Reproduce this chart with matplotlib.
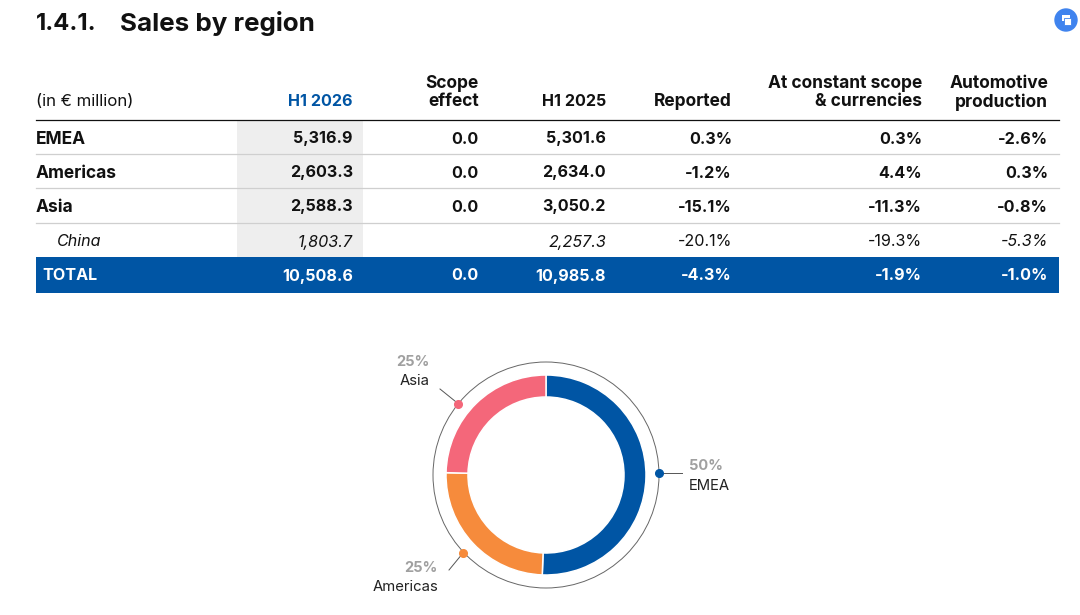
import matplotlib
matplotlib.use("Agg")
import numpy as np
import matplotlib.pyplot as plt
from matplotlib.patches import Circle, Rectangle

FONT = "Inter"
plt.rcParams["font.family"] = [FONT, "DejaVu Sans"]

BLUE = "#0055A4"
INK = "#111111"

title_num = "1.4.1."
title = "Sales by region"
unit = "(in € million)"
headers = ["H1 2026", "Scope\neffect", "H1 2025", "Reported", "At constant scope\n& currencies", "Automotive\nproduction"]
regions = ["EMEA", "Americas", "Asia"]
h1_2026 = ["5,316.9", "2,603.3", "2,588.3"]
scope = ["0.0", "0.0", "0.0"]
h1_2025 = ["5,301.6", "2,634.0", "3,050.2"]
reported = ["0.3%", "-1.2%", "-15.1%"]
constant = ["0.3%", "4.4%", "-11.3%"]
auto_prod = ["-2.6%", "0.3%", "-0.8%"]
china = ["China", "1,803.7", "", "2,257.3", "-20.1%", "-19.3%", "-5.3%"]
china_italic = [True, True, False, True, False, False, True]
total = ["TOTAL", "10,508.6", "0.0", "10,985.8", "-4.3%", "-1.9%", "-1.0%"]

share_labels = ["EMEA", "Americas", "Asia"]
share_values = [5316.9, 2603.3, 2588.3]
share_text = ["50%", "25%", "25%"]
share_colors = [BLUE, "#F68B3C", "#F4677A"]

fig = plt.figure(figsize=(10.8, 6.15), dpi=100, facecolor="white")
ax = fig.add_axes([0, 0, 1, 1])
ax.set_xlim(0, 1080)
ax.set_ylim(615, 0)
ax.axis("off")

ax.text(36, 24, title_num, fontsize=17.2, fontweight="bold", color=INK, va="center")
ax.text(120, 24, title, fontsize=18.7, fontweight="bold", color=INK, va="center")

# icon
ax.add_patch(Circle((1066, 20), 11, color="#3F83EE", zorder=2))
ax.add_patch(Rectangle((1062, 15), 8, 6, fc="white", ec="none", zorder=3))
ax.add_patch(Rectangle((1064, 18), 7, 7, fc="white", ec="#3F83EE", lw=0.6, zorder=4))

col_right = [353, 479, 606, 732, 922, 1048]
FS = 11.6
FS_HEAD = 12.5

# shading and rules
ax.add_patch(Rectangle((237, 120), 126, 137, fc="#EEEEEE", ec="none", zorder=1))
ax.add_patch(Rectangle((36, 257), 1023, 35.5, fc=BLUE, ec="none", zorder=1))
ax.plot([36, 1059], [119.5, 119.5], color="#111111", lw=0.9, zorder=2)
for y in (154, 188, 222.5):
    ax.plot([36, 1059], [y, y], color="#CFCFCF", lw=0.9, zorder=2)

# header
ax.text(36, 102, unit, fontsize=12.1, color=INK, va="center")
for x, h, in zip(col_right, headers):
    c = BLUE if h == "H1 2026" else INK
    fs = FS if h.startswith("H1") else FS_HEAD
    lines = h.split("\n")
    for i, line in enumerate(reversed(lines)):
        ax.text(x, 102 - 19 * i, line, fontsize=fs, fontweight="bold", color=c, ha="right", va="center")

# body
row_y = [139, 173, 207]
for r, y in enumerate(row_y):
    ax.text(36, y, regions[r], fontsize=FS_HEAD, fontweight="bold", color=INK, va="center", zorder=3)
    vals = [h1_2026[r], scope[r], h1_2025[r], reported[r], constant[r], auto_prod[r]]
    for x, v in zip(col_right, vals):
        ax.text(x, y, v, fontsize=FS, fontweight="bold", color=INK, ha="right", va="center", zorder=3)

ax.text(57, 242, china[0], fontsize=FS, style="italic", color=INK, va="center", zorder=3)
for x, v, it in zip(col_right, china[1:], china_italic[1:]):
    ax.text(x, 242, v, fontsize=FS, style="italic" if it else "normal", color=INK, ha="right", va="center", zorder=3)

ax.text(42, 276, total[0], fontsize=FS, fontweight="bold", color="white", va="center", zorder=3)
for x, v in zip(col_right, total[1:]):
    ax.text(x, 276, v, fontsize=FS, fontweight="bold", color="white", ha="right", va="center", zorder=3)

# donut
cx, cy, R = 546, 475, 100
half = 135
pie_ax = fig.add_axes([(cx - half) / 1080, 1 - (cy + half) / 615, 2 * half / 1080, 2 * half / 615])
pie_ax.pie(share_values, colors=share_colors, startangle=90, counterclock=False, radius=1,
           wedgeprops=dict(width=22 / R, edgecolor="white", linewidth=1.1))
pie_ax.set_xlim(-half / R, half / R)
pie_ax.set_ylim(-half / R, half / R)
pie_ax.patch.set_alpha(0)
pie_ax.add_patch(Circle((0, 0), 113 / R, fc="none", ec="#666666", lw=0.7, zorder=0))

# callouts in pixel space, same order as share_labels
callouts = [
    (659, 472.5, 682, 472.5, 689, "left", 466, 486),
    (463, 553, 449, 570, 438, "right", 568, 587),
    (458, 403.5, 440, 389, 430, "right", 362, 381),
]
for (dx, dy, ex, ey, tx, ha, y1, y2), pct, name, col in zip(
        callouts, share_text, share_labels, share_colors):
    ax.plot([dx, ex], [dy, ey], color="#555555", lw=0.7, zorder=3)
    pie_ax.plot([(dx - cx) / R], [(cy - dy) / R], "o", ms=5.5, color=col, zorder=5)
    ax.text(tx, y1, pct, fontsize=10.5, fontweight="bold", color="#A0A0A0", ha=ha, va="center")
    ax.text(tx, y2, name, fontsize=10.7, color="#222222", ha=ha, va="center")

fig.savefig("out.png", dpi=100, facecolor="white")
